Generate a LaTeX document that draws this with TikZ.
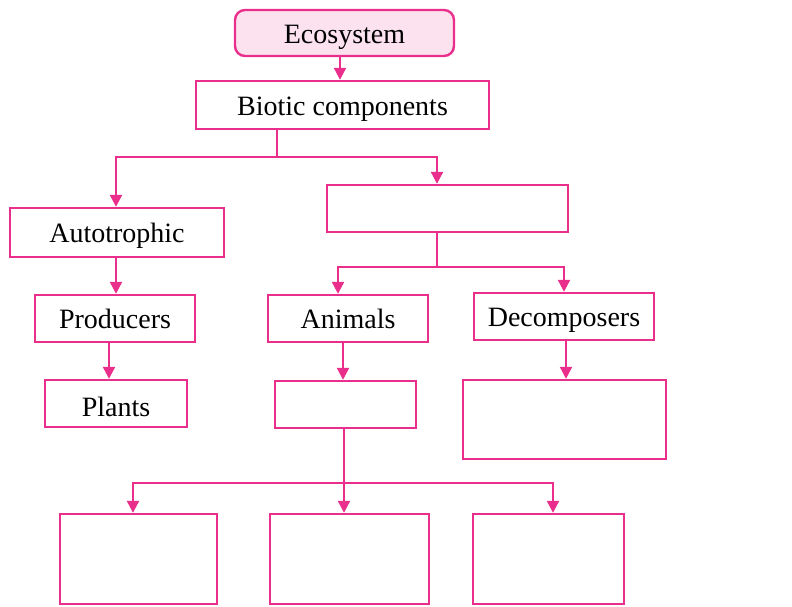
\documentclass[tikz,border=0pt]{standalone}
\usepackage{fontspec}
\setmainfont{Liberation Serif}
\usetikzlibrary{arrows.meta}
\definecolor{pk}{RGB}{234,46,140}
\definecolor{pkfill}{RGB}{251,226,238}
\begin{document}
\begin{tikzpicture}[x=1pt,y=-1pt,
  box/.style={draw=pk,line width=2.4pt,fill=white,inner sep=0pt,text height=26pt,text depth=6pt,font=\fontsize{28}{30}\selectfont},
  arr/.style={draw=pk,line width=2.2pt,-{Triangle[length=12pt,width=12pt]}},
  ln/.style={draw=pk,line width=2.2pt}]
\useasboundingbox (0,0) rectangle (792,606);
\node[box,fill=pkfill,rounded corners=10pt,minimum width=219pt,minimum height=46pt] (eco) at (344.5,33) {Ecosystem};
\node[box,minimum width=293pt,minimum height=48pt] (bio) at (342.5,105) {Biotic components};
\node[box,minimum width=241pt,minimum height=47pt] (het) at (447.5,208.5) {};
\node[box,minimum width=214pt,minimum height=49pt] (auto) at (117,232.5) {Autotrophic};
\node[box,minimum width=160pt,minimum height=47pt] (prod) at (115,318.5) {Producers};
\node[box,minimum width=142pt,minimum height=47pt,text height=32pt] (plants) at (116,403.5) {Plants};
\node[box,minimum width=160pt,minimum height=47pt] (anim) at (348,318.5) {Animals};
\node[box,minimum width=180pt,minimum height=47pt] (dec) at (564,316.5) {Decomposers};
\node[box,minimum width=141pt,minimum height=47pt] (abox) at (345.5,404.5) {};
\node[box,minimum width=203pt,minimum height=79pt] (dbox) at (564.5,419.5) {};
\node[box,minimum width=157pt,minimum height=90pt] (b1) at (138.5,559) {};
\node[box,minimum width=159pt,minimum height=90pt] (b2) at (349.5,559) {};
\node[box,minimum width=151pt,minimum height=90pt] (b3) at (548.5,559) {};
\coordinate (j1) at (277,157);
\coordinate (j2) at (437,267);
\coordinate (j3) at (344,483);
% connectors
\draw[arr] ([xshift=-4.5pt]eco.south) -- ([xshift=-4.5pt]eco.south |- bio.north);
\draw[ln] (bio.south -| j1) -- (j1);
\draw[arr] (j1) -| ([xshift=-1pt]auto.north);
\draw[arr] (j1) -| ([xshift=-10.5pt]het.north);
\draw[arr] ([xshift=-1pt]auto.south) -- ([xshift=-1pt]auto.south |- prod.north);
\draw[arr] ([xshift=-6pt]prod.south) -- ([xshift=-6pt]prod.south |- plants.north);
\draw[ln] (het.south -| j2) -- (j2);
\draw[arr] (j2) -| ([xshift=-10pt]anim.north);
\draw[arr] (j2) -| (dec.north);
\draw[arr] ([xshift=-5pt]anim.south) -- ([xshift=-5pt]anim.south |- abox.north);
\draw[arr] ([xshift=2pt]dec.south) -- ([xshift=2pt]dec.south |- dbox.north);
\draw[arr] (abox.south -| j3) -- (j3 |- b2.north);
\draw[arr] (j3) -| ([xshift=-5.5pt]b1.north);
\draw[arr] (j3) -| ([xshift=4.5pt]b3.north);
\end{tikzpicture}
\end{document}
